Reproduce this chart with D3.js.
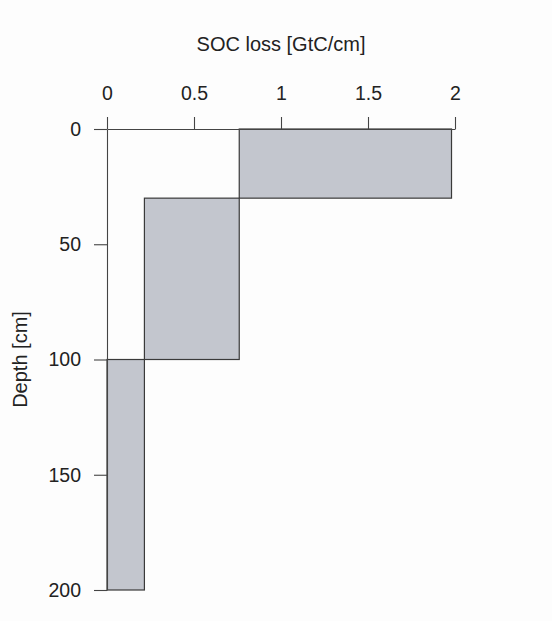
<!DOCTYPE html>
<html>
<head>
<meta charset="utf-8">
<script src="https://cdn.jsdelivr.net/npm/d3@7"></script>
<style>
  body { margin: 0; background: #fdfdfd; }
  svg { display: block; font-family: 'Liberation Sans', Arial, sans-serif; }
</style>
</head>
<body>
<svg id="canvas"></svg>
<script>
/** Data: soil layers (depth in cm) and SOC loss extent per layer */
let depthTop = [0, 30, 100];
let depthBottom = [30, 100, 200];
let lossLeft = [0.76, 0.215, 0];
let lossRight = [1.98, 0.76, 0.215];

let xTicks = [0, 0.5, 1, 1.5, 2];
let yTicks = [0, 50, 100, 150, 200];

let width = 552;
let height = 621;

let canvas = d3.select('#canvas')
    .attr('width', width)
    .attr('height', height);

let xScale = d3.scaleLinear().domain([0, 2]).range([107, 455]);
let yScale = d3.scaleLinear().domain([0, 200]).range([129, 590]);

let layers = depthTop.map((d, i) => ({
    top: d,
    bottom: depthBottom[i],
    left: lossLeft[i],
    right: lossRight[i]
}));

// bars
canvas.selectAll('rect.layer')
    .data(layers)
    .enter()
    .append('rect')
    .attr('class', 'layer')
    .attr('x', d => xScale(d.left))
    .attr('y', d => yScale(d.top))
    .attr('width', d => xScale(d.right) - xScale(d.left))
    .attr('height', d => yScale(d.bottom) - yScale(d.top))
    .attr('fill', '#c3c6ce')
    .attr('stroke', '#3a3a3a')
    .attr('stroke-width', 1.2);

// axes
let xAxis = d3.axisTop(xScale)
    .tickValues(xTicks)
    .tickFormat(d3.format('~g'))
    .tickSizeInner(12)
    .tickSizeOuter(0)
    .tickPadding(17);

let yAxis = d3.axisLeft(yScale)
    .tickValues(yTicks)
    .tickSizeInner(13)
    .tickSizeOuter(0)
    .tickPadding(13);

let gx = canvas.append('g')
    .attr('transform', `translate(0, ${yScale(0)})`)
    .call(xAxis);

let gy = canvas.append('g')
    .attr('transform', `translate(${xScale(0)}, 0)`)
    .call(yAxis);

[gx, gy].forEach(g => {
    g.selectAll('path, line').attr('stroke', '#444').attr('stroke-width', 1.1);
    g.selectAll('text')
        .attr('fill', '#222')
        .style('font-size', '19.5px')
        .style('font-family', "'Liberation Sans', Arial, sans-serif");
});
gx.selectAll('text').attr('dy', '0');

// titles
canvas.append('text')
    .attr('x', (xScale(0) + xScale(2)) / 2)
    .attr('y', 51)
    .attr('text-anchor', 'middle')
    .attr('fill', '#222')
    .style('font-size', '20px')
    .text('SOC loss [GtC/cm]');

canvas.append('text')
    .attr('transform', `translate(27, ${(yScale(0) + yScale(200)) / 2}) rotate(-90)`)
    .attr('text-anchor', 'middle')
    .attr('fill', '#222')
    .style('font-size', '20px')
    .text('Depth [cm]');
</script>
</body>
</html>
